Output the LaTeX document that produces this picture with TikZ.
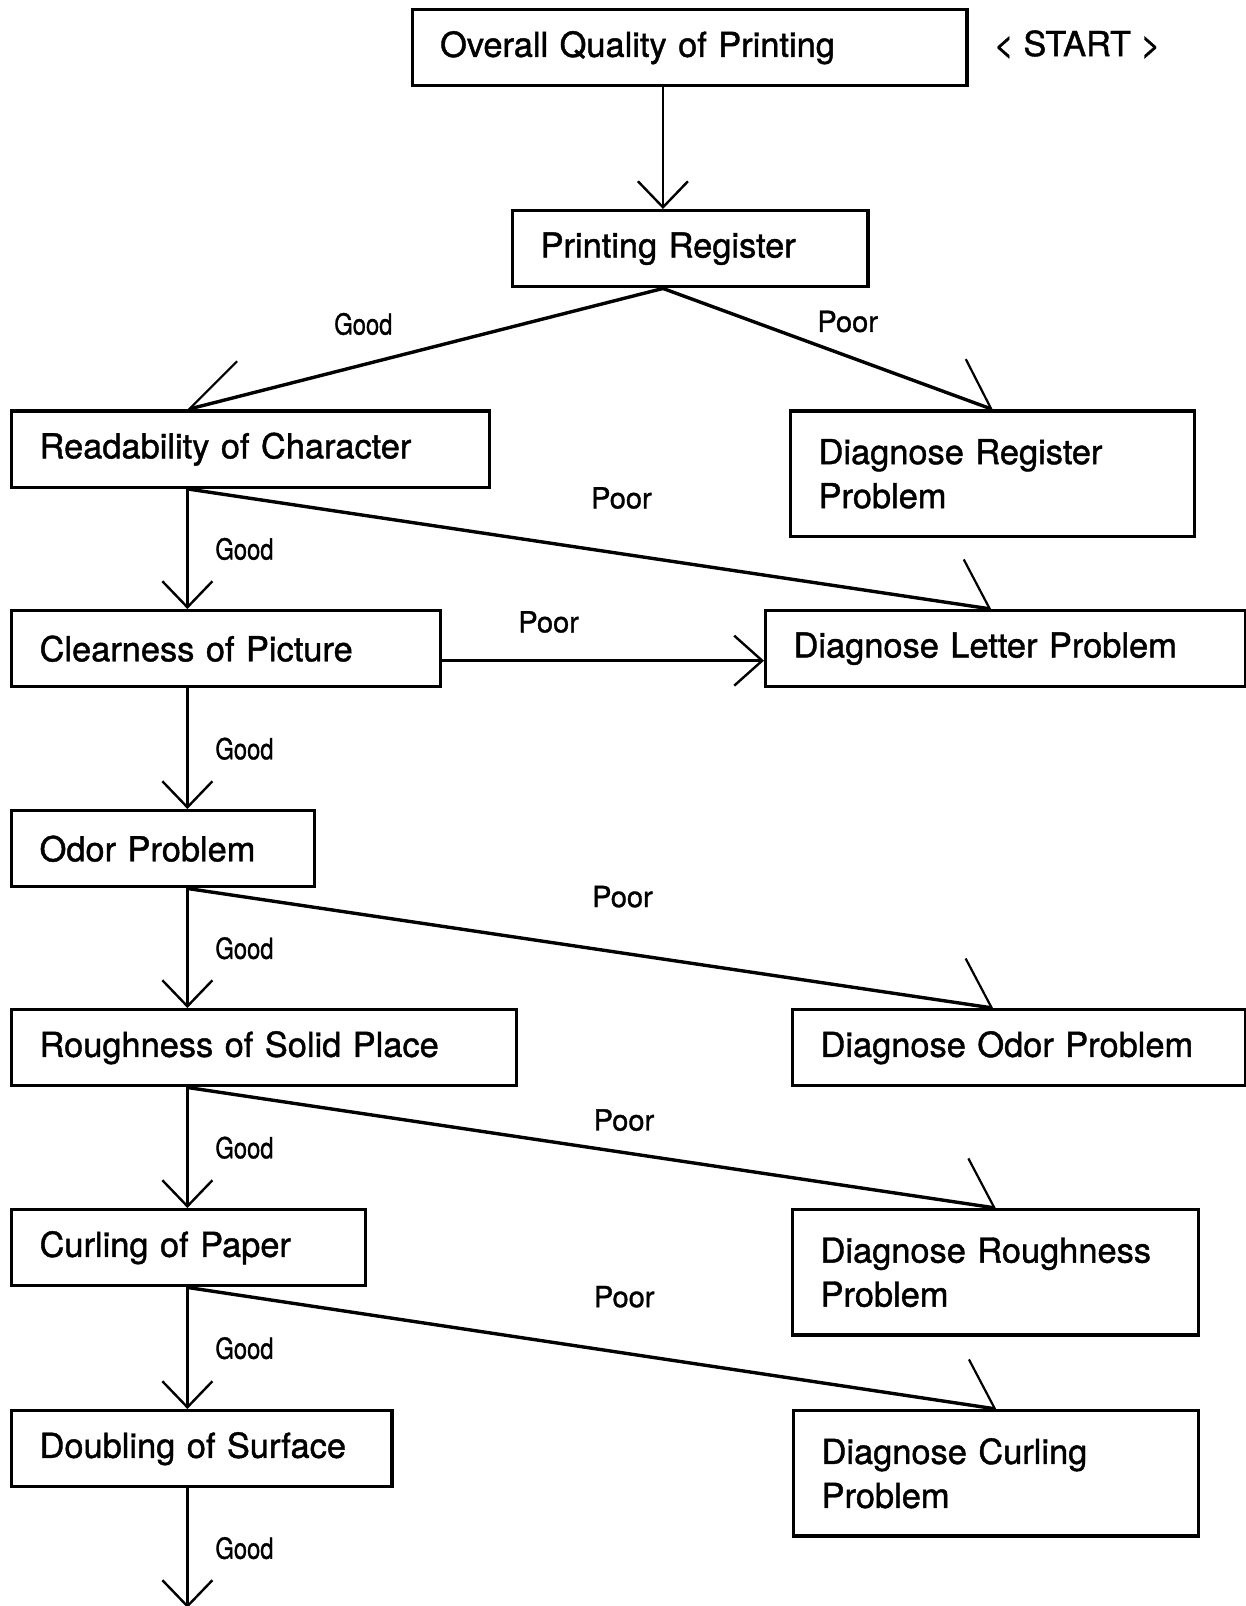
\documentclass[tikz,border=0pt]{standalone}
\usepackage{fontspec}
\setmainfont{TeX Gyre Heros}[FakeBold=1.2]
\usetikzlibrary{calc,arrows.meta,positioning,backgrounds}

\newcommand{\boxfont}{\fontsize{17.2}{22}\selectfont}
\newcommand{\tagfont}{\fontsize{14.5}{17}\selectfont}
\newcommand{\goodtag}{\scalebox{0.82}[1]{Good}}

\begin{document}
\begin{tikzpicture}[goodline/.style={draw=black, line width=1.2pt}, poorline/.style={draw=black, line width=1.7pt}, border/.style={draw=black, line width=1.7pt}]
% Define styles for boxes, labels and connectors
\tikzstyle{block} = [rectangle, fill=white, anchor=north west, align=left, inner xsep=0.49cm, inner ysep=0pt, minimum height=1.336cm, font=\boxfont, border]
\tikzstyle{tall} = [minimum height=2.2cm]
\tikzstyle{tag} = [font=\tagfont, inner sep=4pt]
\tikzstyle{down} = [goodline, -{Straight Barb[length=13pt, width=25pt]}]
\tikzstyle{across} = [poorline, -{Straight Barb[length=14pt, width=25pt, line width=1.2pt]}]
\tikzstyle{slantl} = [poorline, -{Straight Barb[length=29pt, width=34.5pt, line width=1.1pt]}]
\tikzstyle{slantr} = [poorline, -{Straight Barb[length=20.5pt, width=38pt, line width=1.1pt]}]
\tikzstyle{slantd} = [poorline, -{Straight Barb[length=16.5pt, width=45pt, line width=1.1pt]}]

\useasboundingbox (0,0) rectangle (21.879,-28.222);

% Nodes placement
\node [block, text width=8.77cm] (overall) at (7.214,-0.141) {Overall Quality of Printing};
\node [font=\boxfont] (start) at (18.93,-0.78) {< START >};
\node [block, text width=5.26cm] (register) at (8.980,-3.673) {Printing Register};

\node [block, text width=7.42cm] (read) at (0.176,-7.196) {Readability of Character};
\node [block, tall, text width=6.12cm] (diagreg) at (13.865,-7.196) {Diagnose Register\\Problem\\[4pt]};

\node [block, text width=6.56cm] (clear) at (0.176,-10.702) {Clearness of Picture};
\node [block, text width=7.455cm] (diagletter) at (13.426,-10.702) {Diagnose Letter Problem};

\node [block, text width=4.345cm] (odor) at (0.176,-14.217) {Odor Problem};

\node [block, text width=7.894cm] (rough) at (0.176,-17.714) {Roughness of Solid Place};
\node [block, text width=6.98cm] (diagodor) at (13.900,-17.714) {Diagnose Odor Problem};

\node [block, text width=5.24cm] (curl) at (0.176,-21.228) {Curling of Paper};
\node [block, tall, text width=6.155cm] (diagrough) at (13.900,-21.228) {Diagnose Roughness\\Problem\\[4pt]};

\node [block, text width=5.7cm] (doubling) at (0.176,-24.760) {Doubling of Surface};
\node [block, tall, text width=6.137cm] (diagcurl) at (13.918,-24.760) {Diagnose Curling\\Problem\\[4pt]};

\coordinate (regtop) at ($(register.north west)+(2.67,0)$);
\coordinate (cleareast) at ($(clear.east)+(0,-0.21)$);
\coordinate (exit) at ($(doubling.south west)+(3.117,-2.10)$);

% Draw edges
\begin{scope}[on background layer]
\draw [down] (overall.south -| regtop) -- (regtop);
\draw [slantl] ($(register.south west)+(2.67,0)$) -- node[tag, pos=0.63, above=0.35cm] {\goodtag} ($(read.north west)+(3.117,0)$);
\draw [slantr] ($(register.south west)+(2.67,0)$) -- node[tag, pos=0.56, above=0.25cm] {Poor} (diagreg.north);

\draw [down] ($(read.south west)+(3.117,0)$) -- node[tag, midway, right=0.33cm] {\goodtag} ($(clear.north west)+(3.117,0)$);
\draw [slantd] ($(read.south west)+(3.117,0)$) -- node[tag, pos=0.54, above=0.62cm] {Poor} ($(diagletter.north west)+(3.99,0)$);

\draw [across] (cleareast) -- node[tag, pos=0.33, above=0.32cm] {Poor} (cleareast -| diagletter.west);
\draw [down] ($(clear.south west)+(3.117,0)$) -- node[tag, midway, right=0.33cm] {\goodtag} ($(odor.north west)+(3.117,0)$);

\draw [down] ($(odor.south west)+(3.117,0)$) -- node[tag, midway, right=0.33cm] {\goodtag} ($(rough.north west)+(3.117,0)$);
\draw [slantd] ($(odor.south west)+(3.117,0)$) -- node[tag, pos=0.54, above=0.63cm] {Poor} ($(diagodor.north west)+(3.55,0)$);

\draw [down] ($(rough.south west)+(3.117,0)$) -- node[tag, midway, right=0.33cm] {\goodtag} ($(curl.north west)+(3.117,0)$);
\draw [slantd] ($(rough.south west)+(3.117,0)$) -- node[tag, pos=0.54, above=0.21cm] {Poor} (diagrough.north);

\draw [down] ($(curl.south west)+(3.117,0)$) -- node[tag, midway, right=0.33cm] {\goodtag} ($(doubling.north west)+(3.117,0)$);
\draw [slantd] ($(curl.south west)+(3.117,0)$) -- node[tag, pos=0.54, above=0.63cm] {Poor} (diagcurl.north);

\draw [down] ($(doubling.south west)+(3.117,0)$) -- node[tag, midway, right=0.33cm] {\goodtag} (exit);
\end{scope}

\end{tikzpicture}
\end{document}
